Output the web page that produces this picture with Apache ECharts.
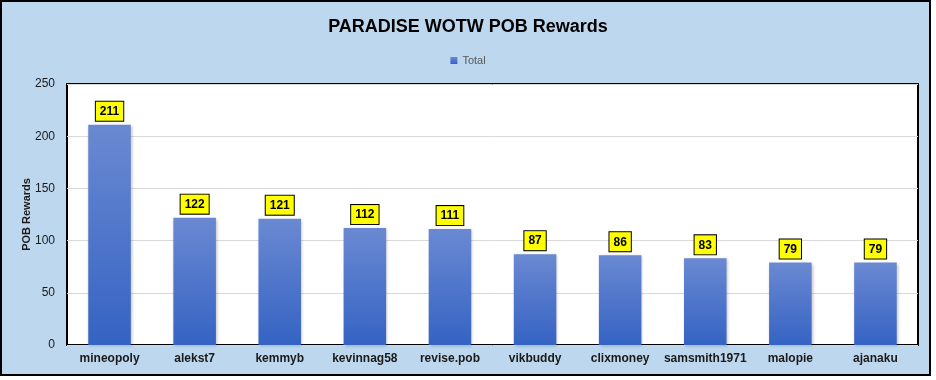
<!DOCTYPE html>
<html><head><meta charset="utf-8">
<script src="https://cdn.jsdelivr.net/npm/echarts@6/dist/echarts.min.js"></script>
<style>html,body{margin:0;padding:0;background:#fff;}#c{width:936px;height:380px;}</style>
</head><body><div id="c"></div>
<script>
const categories = ['mineopoly','alekst7','kemmyb','kevinnag58','revise.pob','vikbuddy','clixmoney','samsmith1971','malopie','ajanaku'];
const totals = [211,122,121,112,111,87,86,83,79,79];
const yTicks = [0,50,100,150,200,250];

const chart = echarts.init(document.getElementById('c'));
const font = '"Liberation Sans Narrow", "Liberation Sans", Arial, sans-serif';
chart.setOption({
  animation: false,
  color:['#4472C4'],
  graphic: [
    {type:'rect', z:-10, shape:{x:1,y:1,width:929,height:374}, style:{fill:'#BDD7EE', stroke:'#000', lineWidth:2}},
    {type:'rect', z:-5, shape:{x:67,y:84,width:851,height:261}, style:{fill:'#fff', stroke:'#000', lineWidth:2}}
  ],
  title: {text:'PARADISE WOTW POB Rewards', left:'center', top:13,
    textStyle:{fontFamily:font, fontSize:18, fontWeight:'bold', color:'#000'}},
  legend: {data:['Total'], top:50, left:'center', itemWidth:7, itemHeight:7, itemGap:3, icon:'rect',
    textStyle:{fontFamily:font, fontSize:11, color:'#595959'}},
  grid: {left:67, right:18, top:84, bottom:35, containLabel:false},
  xAxis: {type:'category', data:categories,
    axisLine:{show:false}, axisTick:{show:false},
    axisLabel:{fontFamily:font, fontSize:12, fontWeight:'bold', color:'#1a1a1a', margin:8, interval:0}},
  yAxis: {type:'value', min:0, max:250, interval:50,
    name:'POB Rewards', nameLocation:'middle', nameGap:35, nameRotate:90, nameMoveOverlap:false,
    nameTextStyle:{fontFamily:font, fontSize:11, fontWeight:'bold', color:'#1a1a1a'},
    axisLine:{show:false}, axisTick:{show:false},
    axisLabel:{fontFamily:font, fontSize:12, color:'#1a1a1a', margin:12},
    splitLine:{lineStyle:{color:'#D9D9D9', width:1}}},
  series: [{
    name:'Total', type:'bar', data:totals, barWidth:'50%',
    itemStyle:{
      color:new echarts.graphic.LinearGradient(0,0,0,1,[{offset:0,color:'#6A89D2'},{offset:1,color:'#3563C3'}]),
      shadowBlur:3, shadowColor:'rgba(0,0,0,0.25)', shadowOffsetX:1, shadowOffsetY:1
    },
    label:{show:true, position:'top', distance:4,
      backgroundColor:'#FFFF00', borderColor:'#000', borderWidth:1, padding:[4,4,3,4],
      fontFamily:font, fontSize:12, fontWeight:'bold', color:'#000'}
  }]
});
</script></body></html>
